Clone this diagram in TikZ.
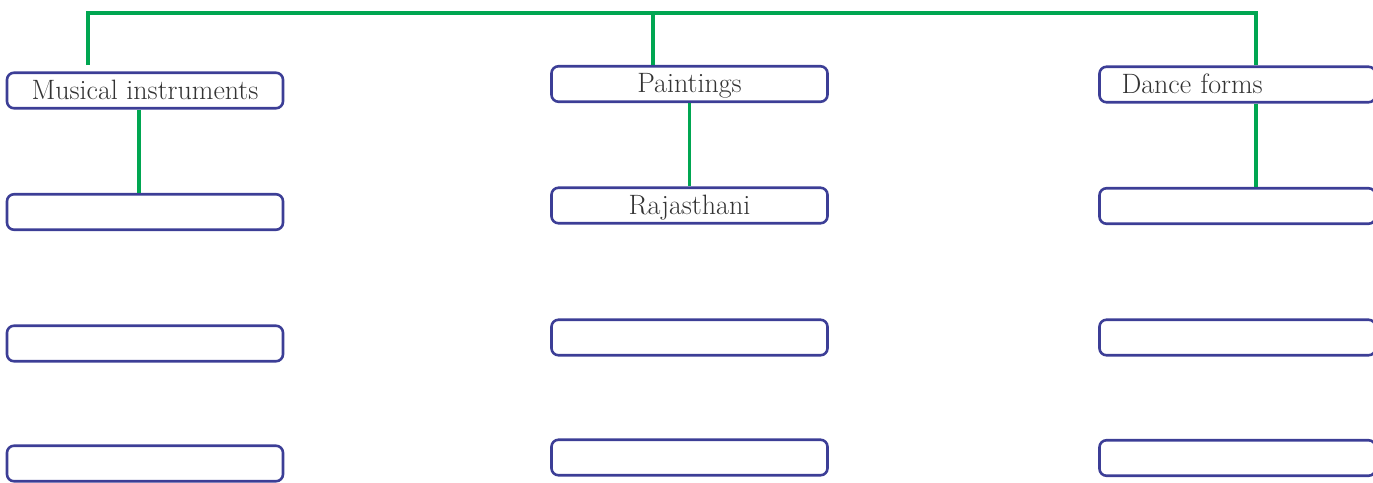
\documentclass[tikz,border=0pt]{standalone}
\definecolor{boxblue}{RGB}{60,62,150}
\definecolor{linkgreen}{RGB}{0,166,81}
\definecolor{txtgrey}{RGB}{51,51,51}
\tikzset{
  box/.style={draw=boxblue, line width=2.6pt, rounded corners=7pt,
    minimum width=276pt, minimum height=35.5pt, inner sep=0pt,
    text height=20pt, text depth=3pt,
    text=txtgrey, font=\fontsize{28}{30}\selectfont},
  leftbox/.style={box, text width=232pt, align=left, inner xsep=22pt},
  link/.style={draw=linkgreen, line width=3.2pt}
}
\begin{document}
\begin{tikzpicture}[x=1pt,y=-1pt]
\useasboundingbox (0,0) rectangle (1373,482);
% column 1
\node[box] (m1) at (145,90.5) {Musical instruments};
\node[box] (m2) at (145,212) {};
\node[box] (m3) at (145,343.5) {};
\node[box] (m4) at (145,463.5) {};
% column 2
\node[box] (p1) at (689.5,84) {Paintings};
\node[box] (p2) at (689.5,205.5) {Rajasthani};
\node[box] (p3) at (689.5,337.5) {};
\node[box] (p4) at (689.5,457.5) {};
% column 3
\node[leftbox] (d1) at (1237.5,84.5) {Dance forms};
\node[box] (d2) at (1237.5,206) {};
\node[box] (d3) at (1237.5,337.5) {};
\node[box] (d4) at (1237.5,458) {};
% connectors
\coordinate (bus) at (0,13);
\coordinate (mstub) at (88,65);
\coordinate (pdrop) at ([xshift=-36.5pt]p1.north);
\coordinate (ddrop) at ([xshift=18.5pt]d1.north);
\draw[link] (mstub) |- (bus -| ddrop) -- (ddrop);
\draw[link] (pdrop) -- (bus -| pdrop);
\draw[link] ([xshift=-6pt]m1.south) -- ([xshift=-6pt]m2.north);
\draw[link] (p1.south) -- (p2.north);
\draw[link] ([xshift=18.5pt]d1.south) -- ([xshift=18.5pt]d2.north);
\end{tikzpicture}
\end{document}
